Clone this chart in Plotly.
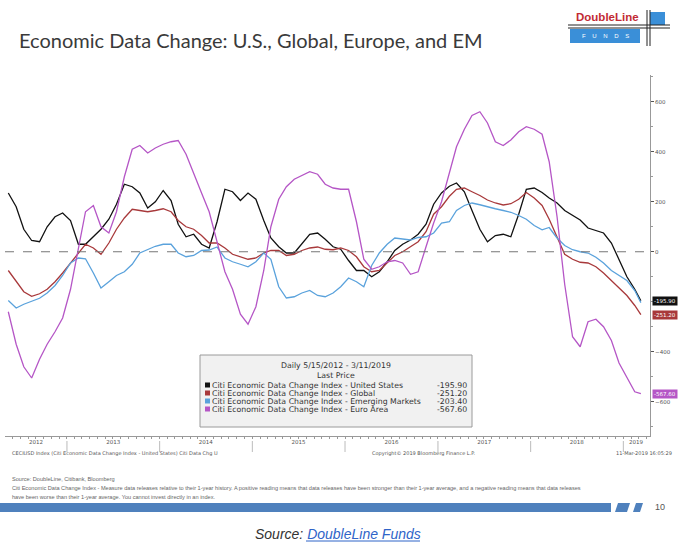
import plotly.graph_objects as go

# month grid, 15th of each month, last point is the last print
dates = [f"{y}-{m:02d}-15" for y in range(2012, 2020) for m in range(1, 13)
         if "2012-05" <= f"{y}-{m:02d}" <= "2019-02"] + ["2019-03-11"]

us = [235, 180, 90, 45, 40, 100, 140, 155, 125, 30, 30, 60, 90, 130, 190, 270, 260, 235,
      175, 200, 245, 205, 110, 60, 70, 30, 15, 120, 250, 240, 205, 235, 210, 125, 55, 20,
      -5, -5, 30, 70, 75, 50, 20, 10, -35, -75, -75, -100, -80, -40, 5, 30, 47, 70, 110,
      190, 235, 262, 275, 240, 165, 90, 40, 65, 70, 60, 150, 250, 255, 237, 215, 195, 165,
      145, 127, 95, 85, 75, 35, -35, -100, -150, -195.9]
glob = [-75, -120, -160, -178, -168, -150, -120, -85, -45, -5, 30, 15, -10, 35, 90, 135,
        170, 165, 160, 165, 172, 160, 125, 100, 90, 65, 35, 35, 15, -10, -20, -30, -25, -5,
        5, 5, -15, -10, 5, 15, 19, 10, 8, 15, 5, -20, -60, -80, -75, -45, -15, 0, 20, 40,
        80, 150, 180, 222, 250, 255, 240, 225, 207, 195, 187, 192, 210, 237, 215, 185, 130,
        60, -10, -30, -42, -45, -60, -85, -115, -145, -175, -215, -251.2]
em = [-195, -225, -210, -198, -186, -165, -135, -95, -45, -25, -28, -85, -145, -120, -95,
      -80, -50, -5, 10, 22, 30, 30, -5, -20, -15, 5, 7, 19, -25, -40, -50, -60, -40, -5,
      -30, -140, -185, -180, -165, -155, -175, -180, -165, -140, -105, -120, -140, -55, -5,
      30, 55, 52, 47, 57, 60, 75, 115, 120, 165, 185, 195, 188, 179, 172, 165, 158, 145,
      130, 105, 88, 97, 55, 25, 8, 0, -5, -22, -45, -75, -95, -115, -155, -203.4]
euro = [-240, -370, -460, -505, -430, -370, -320, -265, -150, 20, 160, 185, 100, 75, 160,
        300, 410, 425, 395, 415, 430, 440, 445, 390, 310, 235, 160, 40, -80, -150, -250,
        -290, -220, -75, 100, 210, 260, 290, 305, 320, 310, 270, 255, 250, 250, 120, -30,
        -70, -60, -40, -35, -45, -90, -80, 20, 115, 200, 310, 420, 490, 545, 560, 515, 440,
        425, 447, 480, 500, 490, 470, 360, 140, -130, -340, -380, -280, -270, -300, -355,
        -445, -500, -560, -567.6]

names = ["Citi Economic Data Change Index - United States",
         "Citi Economic Data Change Index - Global",
         "Citi Economic Data Change Index - Emerging Markets",
         "Citi Economic Data Change Index - Euro Area"]
last = ["-195.90", "-251.20", "-203.40", "-567.60"]
colors = ["#111111", "#a8393b", "#5aa2dc", "#b556c6"]
series = [us, glob, em, euro]

year_labels = ["2012", "2013", "2014", "2015", "2016", "2017", "2018", "2019"]
year_pos = ["2012-09-01", "2013-07-02", "2014-07-02", "2015-07-02", "2016-07-02",
            "2017-07-02", "2018-07-02", "2019-02-20"]
year_breaks = ["2013-01-01", "2014-01-01", "2015-01-01", "2016-01-01", "2017-01-01",
               "2018-01-01", "2019-01-01"]

W, H = 684, 550


def px(x):
    return x / W


def py(y):
    return 1 - y / H


def note(x, y, text, font, xa="left", **kw):
    d = dict(xref="paper", yref="paper", x=px(x), y=py(y), text=text, showarrow=False,
             xanchor=xa, yanchor="middle", font=font)
    d.update(kw)
    return d


fig = go.Figure()
for s, c, n in zip(series, colors, names):
    fig.add_trace(go.Scatter(x=dates, y=s, mode="lines", name=n,
                             line=dict(color=c, width=1.3)))

shapes = []
ann = []

# zero line
shapes.append(dict(type="line", xref="x domain", yref="y", x0=0, x1=1, y0=0, y1=0,
                   line=dict(color="#777", width=1.2, dash="dash")))
# year separators below the axis
for d in year_breaks:
    shapes.append(dict(type="line", xref="x", yref="paper", x0=d, x1=d,
                       y0=py(441), y1=py(452), line=dict(color="#aaa", width=0.8)))

# legend box
shapes.append(dict(type="rect", xref="paper", yref="paper", x0=px(200), x1=px(472),
                   y0=py(427), y1=py(355), fillcolor="#f1f1f1",
                   line=dict(color="#9a9a9a", width=1)))
lf = dict(family="DejaVu Sans", size=7.8, color="#333")
ann.append(note(336, 365, "Daily 5/15/2012 - 3/11/2019", lf, "center"))
ann.append(note(336, 375, "Last Price", lf, "center"))
rows_y = [385, 393, 401, 409]
for ry, c, n, v in zip(rows_y, colors, names, last):
    shapes.append(dict(type="rect", xref="paper", yref="paper", x0=px(205), x1=px(210),
                       y0=py(ry + 2.5), y1=py(ry - 2.5), fillcolor=c, line=dict(width=0)))
    ann.append(note(210, ry, n, lf))
    ann.append(note(469, ry, v, lf, "right"))

# end-value tags on the right axis
for v, c, txt in [(-195.9, "#111111", "-195.90"), (-251.2, "#a8393b", "-251.20"),
                  (-567.6, "#b556c6", "-567.60")]:
    ann.append(dict(xref="paper", yref="y", x=px(652), y=v, text=txt, xanchor="left",
                    yanchor="middle", showarrow=False, bgcolor=c, borderpad=1,
                    font=dict(family="DejaVu Sans", size=5.5, color="white")))

small = dict(family="DejaVu Sans", size=5, color="#555")
ann += [
    note(10, 453, "CECIUSD Index (Citi Economic Data Change Index - United States) Citi Data Chg U", small),
    note(370, 453, "Copyright© 2019 Bloomberg Finance L.P.", small),
    note(674, 453, "11-Mar-2019 16:05:29", small, "right"),
]

nf = dict(family="Liberation Sans", size=5.6, color="#666")
ann += [
    note(10, 479, "Source: DoubleLine, Citibank, Bloomberg", nf),
    note(10, 488, "Citi Economic Data Change Index - Measure data releases relative to their 1-year history. "
                  "A positive reading means that data releases have been stronger than their 1-year average, "
                  "and a negative reading means that data releases", nf),
    note(10, 497, "have been worse than their 1-year average. You cannot invest directly in an index.", nf),
]

# blue band and page number
shapes.append(dict(type="rect", xref="paper", yref="paper", x0=0, x1=px(611),
                   y0=py(512), y1=py(503), fillcolor="#4f81bd", line=dict(width=0)))
for a, b in [(615, 630), (633, 643)]:
    shapes.append(dict(type="path", xref="paper", yref="paper",
                       path=f"M {px(a)},{py(512)} L {px(a + 3)},{py(503)} L {px(b)},{py(503)} "
                            f"L {px(b - 3)},{py(512)} Z",
                       fillcolor="#4f81bd", line=dict(width=0)))
ann.append(note(660, 507, "10", dict(family="Liberation Sans", size=9, color="#555"), "center"))

# title
ann.append(note(17, 40, "Economic Data Change: U.S., Global, Europe, and EM",
                dict(family="Lato", size=20, color="#3a3a3a")))

# logo
shapes += [
    dict(type="rect", xref="paper", yref="paper", x0=px(570), x1=px(640), y0=py(43), y1=py(29),
         fillcolor="#3a8fd8", line=dict(width=0)),
    dict(type="rect", xref="paper", yref="paper", x0=px(650), x1=px(665), y0=py(25), y1=py(12),
         fillcolor="#3a8fd8", line=dict(width=0)),
]
for yy in (25, 28):
    shapes.append(dict(type="line", xref="paper", yref="paper", x0=px(568), x1=px(670),
                       y0=py(yy), y1=py(yy), line=dict(color="#222", width=1)))
for xx in (647, 650):
    shapes.append(dict(type="line", xref="paper", yref="paper", x0=px(xx), x1=px(xx),
                       y0=py(10), y1=py(46), line=dict(color="#222", width=1)))
ann += [
    note(607, 17, "<b>DoubleLine</b>", dict(family="Liberation Sans", size=11.5, color="#c22a34"),
         "center"),
    note(605, 36, "F    U    N    D    S", dict(family="Liberation Sans", size=6, color="white"),
         "center"),
]

# source link
ann.append(note(338, 534, "<i>Source: </i><i><span style='color:#2f64c8'>DoubleLine Funds</span></i>",
                dict(family="Liberation Sans", size=14, color="#333"), "center"))
shapes.append(dict(type="line", xref="paper", yref="paper", x0=px(306), x1=px(420),
                   y0=py(541), y1=py(541), line=dict(color="#2f64c8", width=1)))

fig.update_layout(
    width=W, height=H,
    margin=dict(l=0, r=0, t=0, b=0),
    paper_bgcolor="white", plot_bgcolor="white",
    showlegend=False,
    shapes=shapes, annotations=ann,
    xaxis=dict(domain=[px(5), px(650)], range=["2012-05-02", "2019-04-16"],
               tickmode="array", tickvals=year_pos, ticktext=year_labels, ticks="",
               showgrid=False, zeroline=False, showline=True, linecolor="#999", linewidth=1,
               tickfont=dict(family="DejaVu Sans", size=5.5, color="#555"),
               minor=dict(dtick="M1", ticks="outside", ticklen=2, tickcolor="#999",
                          showgrid=False)),
    # -200 sits under the end-value tags, so only its minor tick shows
    yaxis=dict(domain=[py(436), py(75)], range=[-737, 707], side="right",
               tickvals=[-600, -400, 0, 200, 400, 600], ticks="outside", ticklen=3,
               tickcolor="#555", showgrid=False, zeroline=False, showline=True,
               linecolor="#999", linewidth=1,
               tickfont=dict(family="DejaVu Sans", size=5.5, color="#555"),
               minor=dict(dtick=100, ticks="outside", ticklen=2, tickcolor="#999",
                          showgrid=False)),
)

# drop the default 8px page margin so the figure sits at the window origin
fig.write_html("out.html", config={"displayModeBar": False},
               post_script="document.body.style.margin='0px';")
